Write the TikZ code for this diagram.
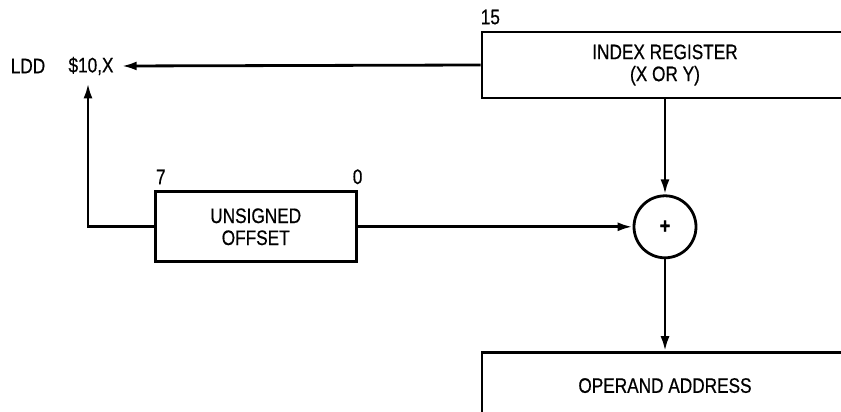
\documentclass[tikz,border=0pt]{standalone}
\usepackage{fontspec}
\setmainfont{Liberation Sans}[FakeStretch=0.82,FakeBold=0.6]
\usetikzlibrary{arrows.meta,positioning}

\begin{document}
\begin{tikzpicture}[x=1pt,y=1pt,font=\fontsize{21}{24}\selectfont,
        reg/.style={draw,line width=2.8pt,minimum width=366pt,minimum height=66pt,inner sep=0pt,align=center},
        offs/.style={draw,line width=2.8pt,minimum width=201pt,minimum height=70pt,inner sep=0pt,align=center},
        sum/.style={draw,circle,line width=2.8pt,minimum size=62pt,inner sep=0pt},
        lbl/.style={inner sep=0pt},
        a/.style={-{Latex[length=15pt,width=9pt]},line width=2.8pt}]
        \clip (0,0) rectangle (841,412);
        \node[reg] (idx) at (665,347) {INDEX REGISTER\\[-2pt](X OR Y)};
        \node[sum,below=95pt of idx] (add) {\fontsize{22}{22}\selectfont\textbf{+}};
        \node[reg,below=92pt of add] (addr) {OPERAND ADDRESS};
        \node[offs,left=275pt of add] (off) {UNSIGNED\\[-2pt]OFFSET};
        \node[lbl] (ldd) at (28,346) {LDD};
        \node[lbl] (opnd) at (91,346) {\$10,X};
        \node[lbl,above right=6pt and 0pt of idx.north west] (b15) {15};
        \node[lbl,above right=6pt and 2pt of off.north west] (b7) {7};
        \node[lbl,above=6pt of off.north east] (b0) {0};
        \draw[a] (idx.west) -- ([xshift=8pt]opnd.east);
        \draw[a] (off.west) -| ([xshift=-3pt,yshift=-8pt]opnd.south);
        \draw[a] (off.east) -- (add.west);
        \draw[a] (idx.south) -- (add.north);
        \draw[a] (add.south) -- (addr.north);
      \end{tikzpicture}
\end{document}
